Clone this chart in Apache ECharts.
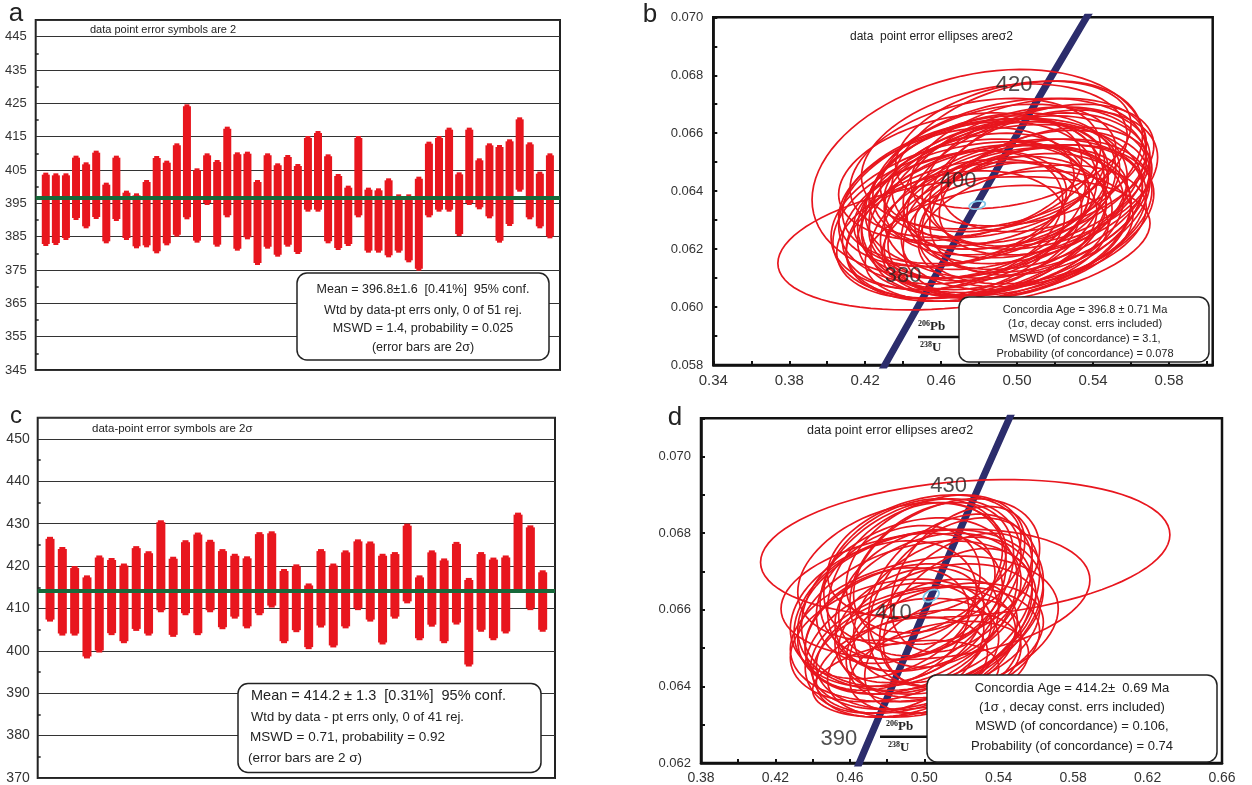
<!DOCTYPE html>
<html>
<head>
<meta charset="utf-8">
<script src="https://cdn.jsdelivr.net/npm/echarts@6/dist/echarts.min.js"></script>
<style>
  html, body { margin: 0; background: #fff; }
  #chart { width: 1252px; height: 785px; }
</style>
</head>
<body>
<div id="chart"></div>
<script>
// panel a: 51 analyses, 2 sigma age ranges (Ma)
const aLow = [382.2, 382.5, 384, 390, 387.5, 390.3, 383, 389.7, 384, 381.5, 381.8, 380, 382.4, 385, 390.2, 383.2, 394.5, 382, 390.8, 380.8,
  384.2, 376.5, 381.4, 379, 382, 379.8, 392.5, 392.5, 383, 381, 382.2, 390.8, 380.2, 380.2, 378.8, 380.2, 377.3, 374.8, 390.8, 392.5,
  392.5, 385.2, 394.5, 393.2, 390.5, 383.2, 388.2, 398.5, 390.2, 387.5, 384.5]
const aHigh = [404.2, 404, 404, 409.3, 407.3, 410.8, 401.2, 409.3, 398.8, 398, 402, 409.2, 407.8, 413, 424.7, 405.5, 410, 408, 418, 410.3,
  410.5, 402, 410, 407, 409.5, 406.8, 415.2, 416.7, 409.7, 403.8, 400.3, 415.2, 399.7, 399.5, 402.5, 397.7, 397.7, 403, 413.5, 415.2,
  417.7, 404.3, 417.7, 408.5, 413, 412.5, 414.2, 420.8, 413.3, 404.5, 410]
const aMean = 396.8

// panel c: 41 analyses
const cLow = [406.9, 403.6, 403.6, 398.2, 399.6, 403.7, 401.8, 404.7, 403.6, 409.1, 403.3, 408.4, 403.7, 409.1, 405.1, 407.6, 405.3, 408.4, 410.2, 401.8,
  404.4, 400.4, 405.5, 400.8, 405.3, 409.6, 406.9, 401.5, 407.6, 411.2, 402.5, 405.7, 401.8, 406.2, 396.3, 404.5, 402.5, 404.1, 413.9, 409.6, 404.5]
const cHigh = [426.9, 424.5, 420.0, 417.8, 422.5, 421.9, 420.6, 424.7, 423.5, 430.8, 422.2, 426.1, 427.9, 426.2, 424.0, 422.9, 422.3, 428.0, 428.2, 419.3,
  420.4, 415.9, 424.0, 420.6, 423.7, 426.3, 425.8, 422.9, 423.3, 430.0, 417.8, 423.7, 421.8, 425.7, 417.2, 423.3, 422.0, 422.5, 432.6, 429.6, 419.0]
const cMean = 414.2

// concordia curve (207Pb/235U, 206Pb/238U) at these ages
const concAges = [350, 360, 370, 380, 390, 400, 410, 420, 430, 440, 450]
const conc207 = [0.41156, 0.42553, 0.43964, 0.45389, 0.46828, 0.48281, 0.49749, 0.51231, 0.52728, 0.54239, 0.55766]
const conc206 = [0.055794, 0.057433, 0.059075, 0.060719, 0.062366, 0.064016, 0.065668, 0.067322, 0.068979, 0.070638, 0.072300]
const bAgeLabels = [380, 400, 420]
const dAgeLabels = [390, 410, 430]

// panel b ellipses: centre x, centre y, half width x, half height y, correlation
const bCx = [0.472, 0.480, 0.470, 0.500, 0.485, 0.510, 0.478, 0.495, 0.465, 0.505, 0.490, 0.475, 0.515, 0.482, 0.500, 0.468, 0.508, 0.492, 0.488, 0.476,
  0.512, 0.470, 0.498, 0.484, 0.504, 0.480, 0.496, 0.516, 0.474, 0.490, 0.466, 0.506, 0.486, 0.500, 0.478, 0.494, 0.472, 0.510, 0.488, 0.502,
  0.482, 0.496, 0.514, 0.470, 0.492, 0.486, 0.506, 0.498, 0.476, 0.490, 0.508]
const bCy = [0.0622, 0.0646, 0.0632, 0.0638, 0.0628, 0.0645, 0.0640, 0.0625, 0.0625, 0.0632, 0.0648, 0.0630, 0.0640, 0.0636, 0.0650, 0.0638, 0.0628, 0.0634, 0.0644, 0.0626,
  0.0636, 0.0645, 0.0631, 0.0622, 0.0643, 0.0633, 0.0646, 0.0648, 0.0636, 0.0627, 0.0630, 0.0650, 0.0640, 0.0628, 0.0648, 0.0638, 0.0627, 0.0632, 0.0652, 0.0635,
  0.0643, 0.0629, 0.0644, 0.0634, 0.0641, 0.0630, 0.0640, 0.0656, 0.0635, 0.0637, 0.0634]
const bSx = [0.098, 0.088, 0.068, 0.070, 0.062, 0.060, 0.070, 0.066, 0.060, 0.066, 0.062, 0.072, 0.056, 0.064, 0.066, 0.062, 0.060, 0.074, 0.058, 0.066,
  0.058, 0.064, 0.070, 0.064, 0.064, 0.058, 0.072, 0.056, 0.068, 0.060, 0.058, 0.062, 0.066, 0.060, 0.066, 0.054, 0.062, 0.062, 0.070, 0.056,
  0.060, 0.064, 0.060, 0.056, 0.062, 0.070, 0.064, 0.062, 0.060, 0.068, 0.058]
const bSy = [0.0023, 0.0036, 0.0026, 0.0028, 0.0024, 0.0024, 0.0025, 0.0022, 0.0022, 0.0026, 0.0022, 0.0027, 0.0022, 0.0030, 0.0028, 0.0024, 0.0021, 0.0029, 0.0020, 0.0024,
  0.0025, 0.0022, 0.0027, 0.0020, 0.0026, 0.0023, 0.0026, 0.0022, 0.0028, 0.0023, 0.0024, 0.0022, 0.0027, 0.0025, 0.0024, 0.0018, 0.0024, 0.0024, 0.0025, 0.0020,
  0.0022, 0.0026, 0.0024, 0.0020, 0.0023, 0.0026, 0.0027, 0.0022, 0.0025, 0.0028, 0.0022]
const bRho = [0.30, 0.25, 0.30, 0.28, 0.32, 0.28, 0.30, 0.30, 0.28, 0.32, 0.30, 0.28, 0.35, 0.25, 0.32, 0.30, 0.30, 0.28, 0.32, 0.30,
  0.30, 0.28, 0.30, 0.32, 0.28, 0.30, 0.30, 0.35, 0.28, 0.30, 0.30, 0.32, 0.28, 0.30, 0.30, 0.35, 0.30, 0.30, 0.28, 0.32,
  0.30, 0.28, 0.32, 0.30, 0.30, 0.28, 0.30, 0.32, 0.30, 0.28, 0.32]
const bAge = [0.479, 0.06352, 0.0042, 0.00014, 0.3]

// panel d ellipses
const dCx = [0.522, 0.506, 0.500, 0.496, 0.488, 0.502, 0.494, 0.510, 0.486, 0.498, 0.504, 0.490, 0.514, 0.480, 0.506, 0.492, 0.518, 0.484, 0.500, 0.512,
  0.496, 0.488, 0.508, 0.478, 0.520, 0.502, 0.494, 0.486, 0.510, 0.498, 0.516, 0.482, 0.492, 0.504, 0.490, 0.508, 0.500, 0.512, 0.520, 0.496, 0.488]
const dCy = [0.0676, 0.0664, 0.0655, 0.0658, 0.0655, 0.0662, 0.0650, 0.0660, 0.0660, 0.0668, 0.0652, 0.0648, 0.0665, 0.0655, 0.0672, 0.0662, 0.0658, 0.0650, 0.0646, 0.0670,
  0.0664, 0.0645, 0.0655, 0.0660, 0.0668, 0.0650, 0.0670, 0.0664, 0.0648, 0.0660, 0.0662, 0.0652, 0.0656, 0.0668, 0.0642, 0.0645, 0.0674, 0.0652, 0.0660, 0.0666, 0.0670]
const dSx = [0.110, 0.083, 0.072, 0.064, 0.052, 0.050, 0.055, 0.048, 0.056, 0.054, 0.046, 0.050, 0.044, 0.044, 0.048, 0.058, 0.040, 0.048, 0.052, 0.050,
  0.042, 0.046, 0.054, 0.050, 0.038, 0.060, 0.048, 0.044, 0.042, 0.066, 0.046, 0.054, 0.040, 0.044, 0.050, 0.048, 0.052, 0.052, 0.044, 0.048, 0.056]
const dSy = [0.0018, 0.0017, 0.0019, 0.0020, 0.0017, 0.0018, 0.0016, 0.0019, 0.0020, 0.0021, 0.0016, 0.0015, 0.0020, 0.0016, 0.0018, 0.0022, 0.0018, 0.0017, 0.0014, 0.0019,
  0.0017, 0.0013, 0.0017, 0.0018, 0.0019, 0.0016, 0.0019, 0.0018, 0.0015, 0.0021, 0.0022, 0.0016, 0.0015, 0.0020, 0.0010, 0.0012, 0.0016, 0.0015, 0.0020, 0.0022, 0.0018]
const dRho = [0.20, 0.22, 0.28, 0.30, 0.30, 0.32, 0.30, 0.35, 0.30, 0.30, 0.32, 0.30, 0.35, 0.30, 0.32, 0.28, 0.38, 0.30, 0.30, 0.32,
  0.32, 0.30, 0.30, 0.28, 0.38, 0.28, 0.30, 0.30, 0.35, 0.25, 0.35, 0.28, 0.32, 0.32, 0.30, 0.32, 0.30, 0.32, 0.38, 0.28, 0.30]
const dAge = [0.5037, 0.06637, 0.0042, 0.00016, 0.4]

const RED = '#e8161e'
const NAVY = '#2c2d6c'
const GREEN = '#17693a'
const FONT = '"Liberation Sans", Arial, sans-serif'

const chart = echarts.init(document.getElementById('chart'))

function barItem(width) {
  return function (params, api) {
    const top = api.coord([api.value(0), api.value(2)])
    const bot = api.coord([api.value(0), api.value(1)])
    const h = bot[1] - top[1]
    return {
      type: 'group',
      children: [
        { type: 'rect', shape: { x: top[0] - width / 2, y: top[1] + 2, width: width, height: h - 4 }, style: { fill: RED } },
        { type: 'rect', shape: { x: top[0] - width / 2 + 1.5, y: top[1], width: width - 3, height: h }, style: { fill: RED } },
      ],
    }
  }
}

function ellipseItem(color, lw) {
  return function (params, api) {
    const cx = api.value(0), cy = api.value(1), sx = api.value(2), sy = api.value(3), r = api.value(4)
    const pts = []
    for (let k = 0; k < 90; k++) {
      const t = k / 90 * Math.PI * 2
      pts.push(api.coord([cx + sx * Math.cos(t), cy + sy * (r * Math.cos(t) + Math.sqrt(1 - r * r) * Math.sin(t))]))
    }
    return { type: 'polygon', shape: { points: pts }, style: { fill: 'none', stroke: color, lineWidth: lw } }
  }
}

const onStep = (v, start, step) => Math.abs((v - start) / step - Math.round((v - start) / step)) < 1e-6

function ratioXAxis(grid, min, max, size) {
  return {
    gridIndex: grid, type: 'value', min: min, max: max, interval: 0.04,
    axisLine: { show: true, onZero: false, lineStyle: { color: '#111', width: 2.5 } },
    axisTick: { show: true, inside: true, length: 4, lineStyle: { color: '#111', width: 2 } },
    minorTick: { show: true, splitNumber: 2, length: 4, lineStyle: { color: '#111', width: 2 } },
    splitLine: { show: false },
    axisLabel: { fontSize: size, color: '#333', fontFamily: FONT, margin: 8, showMaxLabel: true,
      formatter: v => onStep(v, min, 0.04) ? v.toFixed(2) : '' },
  }
}

function ratioYAxis(grid, min, max) {
  return {
    gridIndex: grid, type: 'value', min: min, max: max, interval: 0.002,
    axisLine: { show: true, onZero: false, lineStyle: { color: '#111', width: 2.5 } },
    axisTick: { show: true, inside: true, length: 4, lineStyle: { color: '#111', width: 2 } },
    minorTick: { show: true, splitNumber: 2, length: 4, lineStyle: { color: '#111', width: 2 } },
    splitLine: { show: false },
    axisLabel: { fontSize: 13, color: '#333', fontFamily: FONT, margin: 10,
      formatter: v => onStep(v, min, 0.002) ? v.toFixed(3) : '' },
  }
}

function ageYAxis(grid, min, max, size, margin) {
  return {
    gridIndex: grid, type: 'value', min: min, max: max, interval: 10,
    axisLine: { show: false },
    axisTick: { show: false, inside: true },
    minorTick: { show: true, splitNumber: 2, length: 3, lineStyle: { color: '#222', width: 1.5 } },
    splitLine: { show: true, lineStyle: { color: '#333', width: 1.2 } },
    axisLabel: { fontSize: size, color: '#333', fontFamily: FONT, margin: margin,
      formatter: v => onStep(v, min, 10) ? String(Math.round(v)) : '' },
  }
}

function concordiaSeries(axis, labels) {
  return [
    {
      type: 'line', xAxisIndex: axis, yAxisIndex: axis, smooth: true, symbol: 'none', clip: true, silent: true, z: 3,
      data: concAges.map((a, i) => [conc207[i], conc206[i]]),
      lineStyle: { color: NAVY, width: 7 },
    },
    {
      type: 'scatter', xAxisIndex: axis, yAxisIndex: axis, symbolSize: 0, silent: true, z: 6,
      data: labels.map(a => [conc207[concAges.indexOf(a)], conc206[concAges.indexOf(a)], a]),
      label: { show: true, position: 'left', distance: 8, offset: [0, -10], formatter: p => p.value[2],
        fontSize: 22, color: '#222', fontFamily: FONT },
    },
  ]
}

function text(x, y, str, size, align, extra) {
  return Object.assign({
    type: 'text', x: x, y: y, z: 120,
    style: { text: str, font: size + 'px ' + FONT, fill: '#222', textAlign: align, align: align,
      textVerticalAlign: 'middle', verticalAlign: 'middle' },
  }, extra || {})
}

function box(x, y, w, h) {
  return { type: 'rect', z: 110, shape: { x: x, y: y, width: w, height: h, r: 10 },
    style: { fill: '#fff', stroke: '#222', lineWidth: 1.5 } }
}

function fraction(x, y, lineX1, lineX2) {
  const serif = '"Liberation Serif", "Times New Roman", serif'
  const t = (tx, ty, s, sz) => ({ type: 'text', x: tx, y: ty, z: 120,
    style: { text: s, font: 'bold ' + sz + 'px ' + serif, fill: '#222', textAlign: 'left', align: 'left',
      textVerticalAlign: 'middle', verticalAlign: 'middle' } })
  return [
    t(x, y - 13, '206', 8), t(x + 12, y - 10, 'Pb', 13),
    { type: 'line', z: 120, shape: { x1: lineX1, y1: y, x2: lineX2, y2: y }, style: { stroke: '#111', lineWidth: 2.5 } },
    t(x + 2, y + 8, '238', 8), t(x + 14, y + 11, 'U', 13),
  ]
}

const option = {
  backgroundColor: '#fff',
  animation: false,
  grid: [
    { left: 35.7, top: 20, width: 524.3, height: 350, show: true, borderColor: '#222', borderWidth: 2, backgroundColor: 'transparent' },
    { left: 713.3, top: 17.3, width: 499.4, height: 347.7, show: true, borderColor: '#111', borderWidth: 2.5, backgroundColor: 'transparent' },
    { left: 37.7, top: 417.7, width: 517.3, height: 360.6, show: true, borderColor: '#222', borderWidth: 2, backgroundColor: 'transparent' },
    { left: 701, top: 418.3, width: 521, height: 345.7, show: true, borderColor: '#111', borderWidth: 2.5, backgroundColor: 'transparent' },
  ],
  xAxis: [
    { gridIndex: 0, type: 'value', min: 0, max: aLow.length + 1, show: false },
    ratioXAxis(1, 0.34, 0.603, 15),
    { gridIndex: 2, type: 'value', min: 0, max: cLow.length + 1, show: false },
    ratioXAxis(3, 0.38, 0.66, 14),
  ],
  yAxis: [
    ageYAxis(0, 345, 450, 13, 9),
    ratioYAxis(1, 0.058, 0.070),
    ageYAxis(2, 370, 455, 14, 8),
    ratioYAxis(3, 0.062, 0.071),
  ],
  series: [
    {
      type: 'custom', xAxisIndex: 0, yAxisIndex: 0, renderItem: barItem(8), silent: true,
      data: aLow.map((lo, i) => [i + 1, lo, aHigh[i]]), encode: { x: 0, y: [1, 2] },
      markLine: { silent: true, symbol: ['none', 'none'], label: { show: false }, z: 5,
        lineStyle: { color: GREEN, width: 4, type: 'solid' }, data: [{ yAxis: aMean }] },
    },
    {
      type: 'custom', xAxisIndex: 2, yAxisIndex: 2, renderItem: barItem(9), silent: true,
      data: cLow.map((lo, i) => [i + 1, lo, cHigh[i]]), encode: { x: 0, y: [1, 2] },
      markLine: { silent: true, symbol: ['none', 'none'], label: { show: false }, z: 5,
        lineStyle: { color: GREEN, width: 4, type: 'solid' }, data: [{ yAxis: cMean }] },
    },
    {
      type: 'custom', xAxisIndex: 1, yAxisIndex: 1, renderItem: ellipseItem(RED, 1.7), silent: true, z: 4, clip: true,
      data: bCx.map((x, i) => [x, bCy[i], bSx[i], bSy[i], bRho[i]]), encode: { x: 0, y: 1 },
    },
    {
      type: 'custom', xAxisIndex: 1, yAxisIndex: 1, renderItem: ellipseItem('#7fc6e8', 1.8), silent: true, z: 5,
      data: [bAge], encode: { x: 0, y: 1 },
    },
    ...concordiaSeries(1, bAgeLabels),
    {
      type: 'custom', xAxisIndex: 3, yAxisIndex: 3, renderItem: ellipseItem(RED, 1.7), silent: true, z: 4, clip: true,
      data: dCx.map((x, i) => [x, dCy[i], dSx[i], dSy[i], dRho[i]]), encode: { x: 0, y: 1 },
    },
    {
      type: 'custom', xAxisIndex: 3, yAxisIndex: 3, renderItem: ellipseItem('#7fc6e8', 1.8), silent: true, z: 5,
      data: [dAge], encode: { x: 0, y: 1 },
    },
    ...concordiaSeries(3, dAgeLabels),
  ],
  graphic: [
    text(16, 14, 'a', 26, 'center'),
    text(650, 15, 'b', 26, 'center'),
    text(16, 416, 'c', 24, 'center'),
    text(675, 418, 'd', 26, 'center'),

    text(90, 29.5, 'data point error symbols are 2', 11, 'left'),
    text(850, 36.5, 'data  point error ellipses are\u03c32', 12, 'left'),
    text(92, 429, 'data-point error symbols are 2\u03c3', 11.5, 'left'),
    text(807, 431, 'data point error ellipses are\u03c32', 12.5, 'left'),

    box(297, 273, 252, 87),
    text(423, 290, 'Mean = 396.8\u00b11.6  [0.41%]  95% conf.', 12.5, 'center'),
    text(423, 310.5, 'Wtd by data-pt errs only, 0 of 51 rej.', 12.5, 'center'),
    text(423, 329, 'MSWD = 1.4, probability = 0.025', 12.5, 'center'),
    text(423, 347.5, '(error bars are 2\u03c3)', 12.5, 'center'),

    box(959, 297, 250, 65),
    text(1085, 309.5, 'Concordia Age = 396.8 \u00b1 0.71 Ma', 11, 'center'),
    text(1085, 324.3, '(1\u03c3, decay const. errs included)', 11, 'center'),
    text(1085, 339.3, 'MSWD (of concordance) = 3.1,', 11, 'center'),
    text(1085, 353.7, 'Probability (of concordance) = 0.078', 11, 'center'),
    ...fraction(918, 337, 918, 959),

    box(238, 683.5, 303, 89),
    text(251, 695.5, 'Mean = 414.2 \u00b1 1.3  [0.31%]  95% conf.', 14.5, 'left'),
    text(251, 717, 'Wtd by data - pt errs only, 0 of 41 rej.', 13, 'left'),
    text(250, 737, 'MSWD = 0.71, probability = 0.92', 13.5, 'left'),
    text(248, 758, '(error bars are 2 \u03c3)', 13.5, 'left'),

    box(927, 675, 290, 87),
    text(1072, 688, 'Concordia Age = 414.2\u00b1  0.69 Ma', 13, 'center'),
    text(1072, 707, '(1\u03c3 , decay const. errs included)', 13, 'center'),
    text(1072, 726.5, 'MSWD (of concordance) = 0.106,', 13, 'center'),
    text(1072, 746, 'Probability (of concordance) = 0.74', 13, 'center'),
    ...fraction(886, 736.7, 880, 927),
  ],
}

chart.setOption(option)
</script>
</body>
</html>
